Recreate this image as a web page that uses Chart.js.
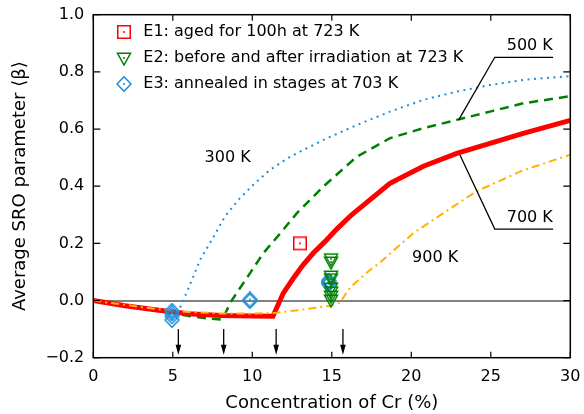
<!DOCTYPE html>
<html><head><meta charset="utf-8">
<script src="https://cdn.jsdelivr.net/npm/chart.js@4/dist/chart.umd.min.js"></script>
<style>html,body{margin:0;padding:0;background:#fff}</style>
</head><body>
<canvas id="c" width="584" height="414" style="width:584px;height:414px"></canvas>
<script>
const FONT = "'DejaVu Sans', 'Liberation Sans', sans-serif";

// ---- model curves (Concentration of Cr %, average SRO parameter) ----
const x300 = [0, 2, 4, 5.3, 5.66, 6.29, 6.71, 7.45, 8.28, 9.12, 10.06, 11.11, 12.37, 14.47, 16.57, 18.66, 20.76, 22.86, 24.95, 27.04, 30];
const y300 = [0, -0.016, -0.032, -0.043, 0, 0.084, 0.142, 0.212, 0.294, 0.352, 0.405, 0.457, 0.503, 0.562, 0.614, 0.661, 0.702, 0.731, 0.754, 0.772, 0.785];
const x500 = [0, 3, 5, 6, 7.2, 8.1, 8.7, 9.86, 10.7, 11.85, 12.79, 14.47, 16.57, 18.66, 20.76, 22.86, 24.95, 27.04, 30];
const y500 = [0, -0.027, -0.043, -0.054, -0.063, -0.067, 0, 0.096, 0.166, 0.241, 0.305, 0.399, 0.503, 0.568, 0.603, 0.632, 0.661, 0.69, 0.715];
const x700 = [0, 2, 4, 6, 8, 10, 11.3, 11.95, 12.58, 13.2, 13.84, 14.57, 15.31, 16.25, 18.66, 20.76, 22.86, 24.95, 27.04, 30];
const y700 = [0, -0.018, -0.033, -0.046, -0.052, -0.054, -0.055, 0.026, 0.078, 0.125, 0.166, 0.206, 0.25, 0.3, 0.41, 0.47, 0.515, 0.55, 0.585, 0.63];
const x900 = [0, 2, 4, 6, 8, 10, 11.5, 13, 14.9, 15.5, 16.14, 17.4, 18.03, 20.13, 23.27, 24.1, 27, 30];
const y900 = [0, -0.015, -0.03, -0.04, -0.045, -0.046, -0.043, -0.033, -0.018, -0.008, 0.045, 0.107, 0.133, 0.236, 0.352, 0.382, 0.455, 0.51];

// ---- experiments ----
const e1X = [13.0];
const e1Y = [0.2];
const e2X = [14.95, 14.95, 14.95, 14.95, 14.95, 14.95, 14.95, 14.95];
const e2Y = [0.146, 0.135, 0.086, 0.076, 0.044, 0.03, 0.016, 0.002];
const e3X = [4.95, 4.95, 4.95, 4.95, 9.85, 9.85, 14.8, 14.8, 14.8, 14.8];
const e3Y = [-0.036, -0.045, -0.055, -0.068, -0.002, 0.004, 0.058, 0.062, 0.066, 0.07];

// ---- annotations ----
const arrowX = [5.35, 8.2, 11.5, 15.7];
const arrowFrom = -0.1, arrowTo = -0.19;
const labelText = ['300 K', '500 K', '700 K', '900 K'];
const labelX = [8.45, 27.45, 27.45, 21.5];
const labelY = [0.5, 0.89, 0.29, 0.148];
const leader500X = [22.98, 25.25, 28.92];
const leader500Y = [0.632, 0.851, 0.851];
const leader700X = [23.06, 25.25, 28.92];
const leader700Y = [0.509, 0.25, 0.25];

const xTicks = [0, 5, 10, 15, 20, 25, 30];
const yTicks = [-0.2, 0, 0.2, 0.4, 0.6, 0.8, 1.0];

const legendNames = ['E1: aged for 100h at 723 K', 'E2: before and after irradiation at 723 K', 'E3: annealed in stages at 703 K'];

const RED = '#ff0000', GREEN = '#008000', BLUE = '#1a8edb', ORANGE = '#ffb300';

function pts(xs, ys) { return xs.map((v, i) => ({x: v, y: ys[i]})); }

function marker(kind, color) {
  const c = document.createElement('canvas');
  c.width = 16; c.height = 16;
  const g = c.getContext('2d');
  const cx = 8, cy = 8;
  g.strokeStyle = color; g.fillStyle = color; g.lineWidth = 1.5;
  g.beginPath();
  if (kind === 'square') {
    g.rect(cx - 6.25, cy - 6.25, 12.5, 12.5);
  } else if (kind === 'tri') {
    g.moveTo(cx - 6.5, cy - 4.7); g.lineTo(cx + 6.5, cy - 4.7); g.lineTo(cx, cy + 7); g.closePath();
  } else {
    g.moveTo(cx, cy - 7.3); g.lineTo(cx + 7, cy); g.lineTo(cx, cy + 7.3); g.lineTo(cx - 7, cy); g.closePath();
  }
  g.stroke();
  g.fillRect(cx - 1, cy - 0.75, 2, 1.5);
  return c;
}
const mkSq = marker('square', RED), mkTri = marker('tri', GREEN), mkDia = marker('dia', BLUE);

const overlay = {
  id: 'overlay',
  afterDatasetsDraw(chart) {
    const {ctx, scales: {x, y}} = chart;
    ctx.save();
    ctx.strokeStyle = '#000'; ctx.fillStyle = '#000'; ctx.lineWidth = 1.3;
    arrowX.forEach(v => {
      const px = x.getPixelForValue(v), y0 = y.getPixelForValue(arrowFrom), y1 = y.getPixelForValue(arrowTo);
      ctx.beginPath(); ctx.moveTo(px, y0); ctx.lineTo(px, y1 - 6); ctx.stroke();
      ctx.beginPath(); ctx.moveTo(px - 2.8, y1 - 10); ctx.lineTo(px + 2.8, y1 - 10); ctx.lineTo(px, y1); ctx.closePath(); ctx.fill();
    });
    [[leader500X, leader500Y], [leader700X, leader700Y]].forEach(([lx, ly]) => {
      ctx.beginPath();
      lx.forEach((v, i) => {
        const px = x.getPixelForValue(v), py = y.getPixelForValue(ly[i]);
        if (i === 0) ctx.moveTo(px, py); else ctx.lineTo(px, py);
      });
      ctx.stroke();
    });
    ctx.font = '16px ' + FONT; ctx.textAlign = 'center'; ctx.textBaseline = 'middle';
    labelText.forEach((t, i) => ctx.fillText(t, x.getPixelForValue(labelX[i]), y.getPixelForValue(labelY[i])));
    ctx.restore();
  },
  afterDraw(chart) {
    const {ctx, chartArea: a, scales: {x, y}} = chart;
    ctx.save();
    // legend (inside plot, top-left), built from the marker datasets
    ctx.font = '16px ' + FONT; ctx.textAlign = 'left'; ctx.textBaseline = 'middle'; ctx.fillStyle = '#000';
    const rowY0 = a.top + 17.6, rowStep = 25.7;
    for (let i = 0; i < 3; i++) {
      const ds = chart.data.datasets[i];
      const ry = rowY0 + i * rowStep;
      ctx.drawImage(ds.pointStyle, a.left + 30.7 - 8, Math.round(ry) - 8);
      ctx.fillText(ds.label, a.left + 50, ry);
    }
    // frame and mirrored inward ticks
    ctx.strokeStyle = '#000'; ctx.lineWidth = 1.5;
    ctx.strokeRect(a.left, a.top, a.right - a.left, a.bottom - a.top);
    ctx.lineWidth = 1.2;
    ctx.beginPath();
    xTicks.forEach(v => {
      const px = x.getPixelForValue(v);
      ctx.moveTo(px, a.bottom); ctx.lineTo(px, a.bottom - 6);
      ctx.moveTo(px, a.top); ctx.lineTo(px, a.top + 6);
    });
    yTicks.forEach(v => {
      const py = y.getPixelForValue(v);
      ctx.moveTo(a.left, py); ctx.lineTo(a.left + 7, py);
      ctx.moveTo(a.right, py); ctx.lineTo(a.right - 7, py);
    });
    ctx.stroke();
    ctx.restore();
  }
};

const curve = (label, xs, ys, color, width, dash) => ({
  label, data: pts(xs, ys), showLine: true, borderColor: color, borderWidth: width,
  borderDash: dash, pointRadius: 0, tension: 0, fill: false
});

function noPad(s) { s.paddingLeft = 0; s.paddingRight = 0; s.paddingTop = 0; s.paddingBottom = 0; }

new Chart(document.getElementById('c'), {
  type: 'scatter',
  data: {
    datasets: [
      {label: legendNames[0], data: pts(e1X, e1Y), pointStyle: mkSq, pointRadius: 7, showLine: false},
      {label: legendNames[1], data: pts(e2X, e2Y), pointStyle: mkTri, pointRadius: 7, showLine: false},
      {label: legendNames[2], data: pts(e3X, e3Y), pointStyle: mkDia, pointRadius: 7, showLine: false},
      curve('900 K', x900, y900, ORANGE, 2, [8, 4, 2, 4]),
      curve('700 K', x700, y700, RED, 5, []),
      curve('500 K', x500, y500, GREEN, 2.5, [9, 6]),
      curve('300 K', x300, y300, BLUE, 2, [2, 4.5])
    ]
  },
  options: {
    responsive: false, animation: false, events: [],
    layout: {autoPadding: false, padding: {left: 0, right: 13.7, top: 14.7, bottom: 0}},
    plugins: {
      tooltip: {enabled: false},
      legend: {display: false}
    },
    scales: {
      x: {
        type: 'linear', min: 0, max: 30,
        afterBuildTicks: s => { s.ticks = xTicks.map(v => ({value: v})); },
        afterFit: s => { s.height = 56.3; noPad(s); },
        ticks: {color: '#000', font: {family: FONT, size: 16}, padding: 10, maxRotation: 0,
          callback: v => String(v)},
        grid: {display: false, drawTicks: false},
        border: {display: false},
        title: {display: true, text: 'Concentration of Cr (%)', color: '#000',
          font: {family: FONT, size: 18}, padding: {top: 0, bottom: 0}}
      },
      y: {
        type: 'linear', min: -0.2, max: 1.0,
        afterBuildTicks: s => { s.ticks = yTicks.map(v => ({value: v})); },
        afterFit: s => { s.width = 93.3; noPad(s); },
        ticks: {color: '#000', font: {family: FONT, size: 16}, padding: 9,
          callback: v => Math.abs(v) < 1e-9 ? '0.0' : v.toFixed(1).replace('-', '\u2212')},
        grid: {drawTicks: false,
          color: c => (c.tick && Math.abs(c.tick.value) < 1e-9) ? '#808080' : 'rgba(0,0,0,0)',
          lineWidth: c => (c.tick && Math.abs(c.tick.value) < 1e-9) ? 2 : 0},
        border: {display: false},
        title: {display: true, text: 'Average SRO parameter \u27E8\u03B2\u27E9', color: '#000',
          font: {family: FONT, size: 18}, padding: {top: 10, bottom: 0}}
      }
    }
  },
  plugins: [overlay]
});
</script>
</body></html>
